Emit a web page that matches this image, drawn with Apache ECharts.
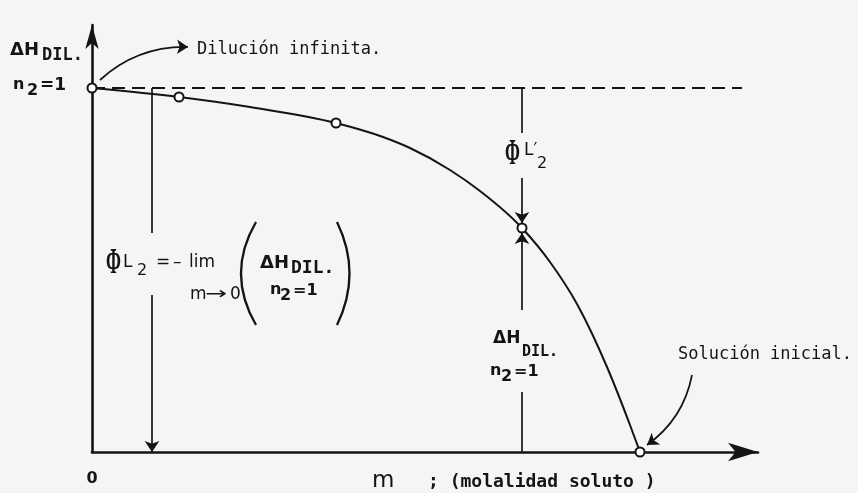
<!DOCTYPE html>
<html>
<head>
<meta charset="utf-8">
<script src="https://cdn.jsdelivr.net/npm/echarts@6/dist/echarts.min.js"></script>
<style>
  html, body { margin: 0; padding: 0; background: #f5f5f5; }
  #chart { width: 858px; height: 493px; }
</style>
</head>
<body>
<div id="chart"></div>
<script>
// Integral heat of dilution vs. solute molality (schematic units)
const curveM = [0, 0.87, 1.58, 2.44, 2.91, 3.18, 3.58, 3.88, 4.30, 4.58, 4.85, 5.15, 5.38, 5.48];
const curveH = [3.64, 3.55, 3.45, 3.29, 3.15, 3.04, 2.82, 2.61, 2.24, 1.90, 1.48, 0.85, 0.27, 0];

// Measured states marked with open circles
const pointM = [0, 0.87, 2.44, 4.30, 5.48];
const pointH = [3.64, 3.55, 3.29, 2.24, 0];

// Axis extents and reference levels
const axisMaxM = 6.66;
const axisMaxH = 4.27;
const infiniteLevel = 3.64;   // ΔH at infinite dilution
const dashedEndM = 6.50;
const limitM = 0.60;          // position of the ΦL2 indicator
const markM = 4.30;           // position of the ΦL'2 indicator

const ink = '#141414';
const sans = '"DejaVu Sans", sans-serif';
const mono = '"DejaVu Sans Mono", monospace';
const serif = '"Liberation Serif", serif';

const chart = echarts.init(document.getElementById('chart'), null, { renderer: 'canvas' });

// Straight indicator segments (with breaks where the labels sit)
const plainSegments = [
  [[limitM, infiniteLevel], [limitM, 2.19]],
  [[markM, infiniteLevel], [markM, 3.19]],
  [[markM, 0.60], [markM, 0]]
];
const arrowSegments = [
  [[limitM, 1.57], [limitM, 0]],
  [[markM, 2.74], [markM, 2.29]],
  [[markM, 1.42], [markM, 2.19]]
];
const curvedArrows = [
  [[0.08, 3.72], [0.96, 4.05]],
  [[6.00, 0.77], [5.55, 0.07]]
];

function txt(text, x, y, size, opts) {
  opts = opts || {};
  const el = {
    type: 'text',
    x: x, y: y,
    z: 100,
    style: {
      text: text,
      fill: ink,
      font: (opts.weight || 'normal') + ' ' + size + 'px ' + (opts.family || sans),
      verticalAlign: 'middle',
      align: opts.align || 'left'
    }
  };
  if (opts.sx) el.scaleX = opts.sx;
  if (opts.sy) el.scaleY = opts.sy;
  return el;
}

// Capital phi drawn tall and narrow
function phi(x, y) {
  return txt('Φ', x, y, 25, { family: serif, weight: 'bold', sx: 0.72, sy: 1.45 });
}

function paren(x1, cpx, yTop, yBottom) {
  return {
    type: 'bezierCurve', z: 100,
    shape: { x1: x1, y1: yTop, cpx1: cpx, cpy1: (yTop + yBottom) / 2, x2: x1, y2: yBottom },
    style: { stroke: ink, lineWidth: 2.3, fill: 'none' }
  };
}

// Smooth curve through the readings: cubic Hermite pieces in pixel space,
// tangents from the non-uniform three-point derivative.
function renderCurve(params, api) {
  if (params.dataIndex !== 0) return null;
  const pts = curveM.map((m, i) => api.coord([m, curveH[i]]));
  const n = pts.length;
  const h = [], d = [];
  for (let i = 0; i < n - 1; i++) {
    h.push(pts[i + 1][0] - pts[i][0]);
    d.push((pts[i + 1][1] - pts[i][1]) / h[i]);
  }
  const s = new Array(n);
  for (let i = 1; i < n - 1; i++) {
    s[i] = (d[i - 1] * h[i] + d[i] * h[i - 1]) / (h[i - 1] + h[i]);
  }
  s[0] = (3 * d[0] - s[1]) / 2;
  s[n - 1] = (3 * d[n - 2] - s[n - 2]) / 2;
  let path = 'M' + pts[0][0] + ',' + pts[0][1];
  for (let i = 0; i < n - 1; i++) {
    const k = h[i] / 3;
    const c1 = [pts[i][0] + k, pts[i][1] + s[i] * k];
    const c2 = [pts[i + 1][0] - k, pts[i + 1][1] - s[i + 1] * k];
    path += ' C' + c1[0] + ',' + c1[1] + ' ' + c2[0] + ',' + c2[1] + ' ' + pts[i + 1][0] + ',' + pts[i + 1][1];
  }
  return {
    type: 'path',
    shape: { pathData: path },
    style: { stroke: ink, lineWidth: 2, fill: 'none' }
  };
}

const B = { weight: 'bold' };
const graphics = [].concat(
  // y-axis title
  txt('ΔH', 10, 50, 18, B),
  txt('DIL.', 42, 56, 17, { weight: 'bold', family: mono }),
  txt('n', 13, 85, 16, B),
  txt('2', 27, 91, 16, B),
  txt('=1', 40, 86, 17, B),
  // annotations
  txt('Dilución infinita.', 197, 50, 17, { family: mono }),
  txt('Solución inicial.', 678, 355, 17, { family: mono }),
  // ΦL'2
  phi(505, 155),
  txt('L′', 524, 151, 17),
  txt('2', 537, 164, 16),
  // ΦL2 = − lim (ΔH DIL. / n2=1)
  phi(106, 264),
  txt('L', 123, 263, 17),
  txt('2', 137, 271, 16),
  txt('=', 156, 263, 17),
  txt('–', 173, 263, 17),
  txt('lim', 189, 263, 17),
  txt('m', 190, 295, 17),
  txt('→', 205, 295, 17, { sx: 1.55 }),
  txt('0', 230, 295, 17),
  txt('ΔH', 260, 263, 18, B),
  txt('DIL.', 291, 268, 18, { weight: 'bold', family: mono }),
  txt('n', 270, 290, 16, B),
  txt('2', 280, 296, 16, B),
  txt('=1', 293, 291, 16, B),
  paren(256, 226, 222, 325),
  paren(337, 362, 222, 325),
  // ΔH DIL. label under the ΦL'2 indicator
  txt('ΔH', 493, 339, 17, B),
  txt('DIL.', 522, 352, 15, { weight: 'bold', family: mono }),
  txt('n', 490, 371, 16, B),
  txt('2', 501, 377, 16, B),
  txt('=1', 514, 372, 16, B),
  // x-axis title
  txt('m', 372, 481, 23),
  txt('; (molalidad soluto )', 428, 482, 18, { weight: 'bold', family: mono })
);

const option = {
  backgroundColor: '#f5f5f5',
  animation: false,
  grid: { left: 92, right: 100, top: 25, bottom: 41, containLabel: false },
  xAxis: {
    type: 'value', min: 0, max: axisMaxM, interval: 1,
    splitLine: { show: false },
    axisTick: { show: false },
    axisLine: {
      show: true, onZero: false,
      symbol: ['none', 'arrow'], symbolSize: [14, 30],
      lineStyle: { color: ink, width: 2.6 }
    },
    axisLabel: {
      margin: 19,
      color: ink, fontFamily: sans, fontWeight: 'bold', fontSize: 16,
      formatter: v => (v === 0 ? '0' : '')
    }
  },
  yAxis: {
    type: 'value', min: 0, max: axisMaxH,
    splitLine: { show: false },
    axisTick: { show: false },
    axisLabel: { show: false },
    axisLine: {
      show: true, onZero: false,
      symbol: ['none', 'arrow'], symbolSize: [10, 24],
      lineStyle: { color: ink, width: 2.6 }
    }
  },
  graphic: graphics,
  series: [
    {
      name: 'dilución infinita',
      type: 'lines', coordinateSystem: 'cartesian2d',
      silent: true, z: 2,
      lineStyle: { color: ink, width: 1.8, type: [13, 7], opacity: 1 },
      data: [{ coords: [[0, infiniteLevel], [dashedEndM, infiniteLevel]] }]
    },
    {
      name: 'segmentos',
      type: 'lines', coordinateSystem: 'cartesian2d',
      silent: true, z: 3,
      lineStyle: { color: ink, width: 1.7, opacity: 1 },
      data: plainSegments.map(c => ({ coords: c }))
    },
    {
      name: 'flechas',
      type: 'lines', coordinateSystem: 'cartesian2d',
      silent: true, z: 3,
      symbol: ['none', 'arrow'], symbolSize: 11,
      lineStyle: { color: ink, width: 1.7, opacity: 1 },
      data: arrowSegments.map(c => ({ coords: c }))
    },
    {
      name: 'flechas curvas',
      type: 'lines', coordinateSystem: 'cartesian2d',
      silent: true, z: 3,
      symbol: ['none', 'arrow'], symbolSize: 11,
      lineStyle: { color: ink, width: 1.7, curveness: 0.2, opacity: 1 },
      data: curvedArrows.map(c => ({ coords: c }))
    },
    {
      name: 'ΔH DIL.',
      type: 'custom', z: 4,
      silent: true,
      renderItem: renderCurve,
      data: curveM.map((m, i) => [m, curveH[i]])
    },
    {
      name: 'puntos',
      type: 'scatter', z: 5,
      symbol: 'circle', symbolSize: 9,
      itemStyle: { color: '#ffffff', borderColor: ink, borderWidth: 2, opacity: 1 },
      data: pointM.map((m, i) => [m, pointH[i]])
    }
  ]
};

chart.setOption(option);
</script>
</body>
</html>
